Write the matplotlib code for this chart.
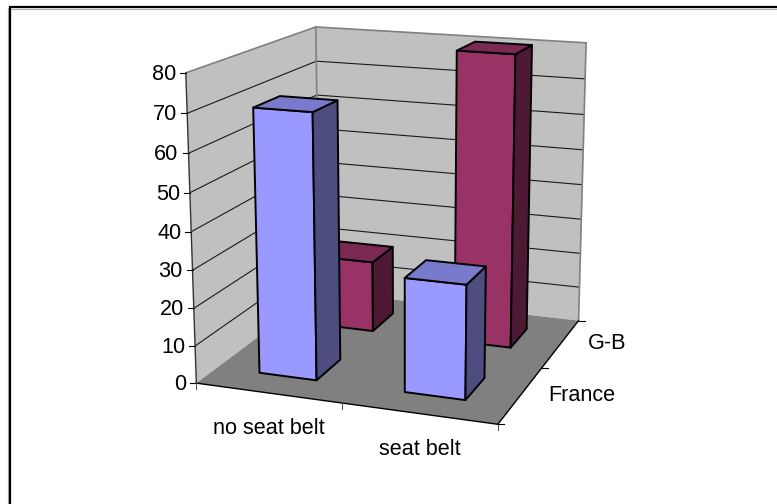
import numpy as np
import matplotlib
matplotlib.use("Agg")
import matplotlib.pyplot as plt
from matplotlib.patches import Polygon

categories = ["no seat belt", "seat belt"]
series_names = ["France", "G-B"]
france = [70, 30]
gb = [20, 80.5]
z_ticks = [0, 10, 20, 30, 40, 50, 60, 70, 80]

plt.rcParams['font.family'] = ['Liberation Sans', 'DejaVu Sans']

W, H = 777, 504
ZMAX = 80.0
GAP = 0.3  # Excel's default gap of 150%
FS = 15.6

BLUE = ("#9999FF", "#4D4D80", "#7A7ACC")
MAROON = ("#993366", "#4D1933", "#7A2952")


def fit_camera():
  # camera from the box corners: (category, depth, value) -> pixel
  world = [(0, 0, 0), (2, 0, 0), (2, 2, 0), (0, 2, 0), (0, 0, 80), (0, 2, 80), (2, 2, 80)]
  pix = [(196, 382.7), (498.3, 424.3), (578.3, 320.7), (319.7, 291.4),
         (185.7, 73.3), (316, 26.7), (586, 42.7)]
  A, b = [], []
  for (x, y, z), (u, v) in zip(world, pix):
    z = z / 40.0
    A.append([x, y, z, 1, 0, 0, 0, 0, -u*x, -u*y, -u*z])
    A.append([0, 0, 0, 0, x, y, z, 1, -v*x, -v*y, -v*z])
    b += [u, v]
  p = np.linalg.lstsq(np.array(A, float), np.array(b, float), rcond=None)[0]
  return np.append(p, 1).reshape(3, 4)


CAM = fit_camera()


def proj(x, y, z):
  u, v, w = CAM @ np.array([x, y, z/40.0, 1.0])
  return u/w, v/w


def face(ax, pts, fc, ec="none", lw=0, zorder=1):
  ax.add_patch(Polygon([proj(*p) for p in pts], closed=True, fc=fc, ec=ec, lw=lw, zorder=zorder, joinstyle="round"))


def seg(ax, a, b, c="k", lw=0.8, zorder=2):
  (x0, y0), (x1, y1) = proj(*a), proj(*b)
  ax.plot([x0, x1], [y0, y1], c=c, lw=lw, zorder=zorder, solid_capstyle="round")


def bar(ax, i, j, val, colors, zorder):
  x0, x1 = i + GAP, i + 1 - GAP
  y0, y1 = j + GAP, j + 1 - GAP
  front, side, top = colors
  kw = dict(ec="k", lw=1.4, zorder=zorder)
  face(ax, [(x0, y0, 0), (x1, y0, 0), (x1, y0, val), (x0, y0, val)], front, **kw)
  face(ax, [(x1, y0, 0), (x1, y1, 0), (x1, y1, val), (x1, y0, val)], side, **kw)
  face(ax, [(x0, y0, val), (x1, y0, val), (x1, y1, val), (x0, y1, val)], top, **kw)


fig = plt.figure(figsize=(W/100, H/100), dpi=100)
ax = fig.add_axes([0, 0, 1, 1])
ax.set_xlim(0, W)
ax.set_ylim(H, 0)
ax.axis("off")

# outer frame, only left and top are visible
ax.plot([8.2, 8.2], [8, H], c="#b0b0b0", lw=0.8)
ax.plot([9, W], [8.6, 8.6], c="#b0b0b0", lw=0.8)
ax.plot([10, 10, W], [H, 7, 7], c="k", lw=1.6, solid_joinstyle="miter")

# walls and floor
face(ax, [(0, 0, 0), (0, 2, 0), (0, 2, ZMAX), (0, 0, ZMAX)], "#C0C0C0")
face(ax, [(0, 2, 0), (2, 2, 0), (2, 2, ZMAX), (0, 2, ZMAX)], "#C0C0C0")
face(ax, [(0, 0, 0), (2, 0, 0), (2, 2, 0), (0, 2, 0)], "#808080")

for z in z_ticks[1:-1]:
  seg(ax, (0, 0, z), (0, 2, z), c="#1a1a1a", lw=0.8)
  seg(ax, (0, 2, z), (2, 2, z), c="#1a1a1a", lw=0.8)

GREY = "#808080"
seg(ax, (0, 0, ZMAX), (0, 2, ZMAX), c=GREY, lw=1.2, zorder=3)
seg(ax, (0, 2, ZMAX), (2, 2, ZMAX), c=GREY, lw=1.2, zorder=3)
seg(ax, (0, 2, 0), (0, 2, ZMAX), c=GREY, lw=1.2, zorder=3)
seg(ax, (2, 2, 0), (2, 2, ZMAX), c=GREY, lw=1.2, zorder=3)

# axis lines
seg(ax, (0, 0, 0), (0, 0, ZMAX), c="#333333", lw=1.0, zorder=3)
seg(ax, (0, 0, 0), (2, 0, 0), c="k", lw=1.0, zorder=3)
seg(ax, (2, 0, 0), (2, 2, 0), c="k", lw=1.0, zorder=3)

# value axis ticks and labels
for z in z_ticks:
  u, v = proj(0, 0, z)
  ax.plot([u-6, u], [v, v], c="k", lw=0.8, zorder=3)
  ax.text(u-10, v-1, str(z), ha="right", va="center_baseline", fontsize=FS, color="k")

# category ticks and labels
for i in [0, 1, 2]:
  u, v = proj(i, 0, 0)
  ax.plot([u, u], [v, v+6], c="#555555", lw=0.8, zorder=3)
for i, name in enumerate(categories):
  u, v = proj(i+0.5, 0, 0)
  ax.text(u+1, v+33, name, ha="center", va="center_baseline", fontsize=FS, color="k")

# depth ticks and labels
for j in [0, 1, 2]:
  u, v = proj(2, j, 0)
  ax.plot([u, u+6], [v, v], c="k", lw=0.8, zorder=3)
for j, name in enumerate(series_names):
  u, v = proj(2, j+0.5, 0)
  ax.text(u+27, v-2, name, ha="left", va="center_baseline", fontsize=FS, color="k")

# back row first so the front row covers it
bar(ax, 0, 1, gb[0], MAROON, 5)
bar(ax, 1, 1, gb[1], MAROON, 6)
bar(ax, 0, 0, france[0], BLUE, 7)
bar(ax, 1, 0, france[1], BLUE, 8)

fig.savefig("out.png", dpi=100)
